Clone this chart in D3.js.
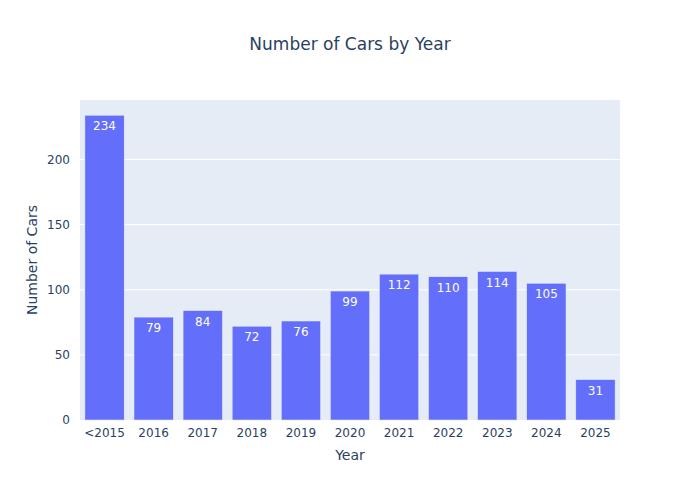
<!DOCTYPE html>
<html>
<head>
<meta charset="utf-8">
<script src="https://cdn.jsdelivr.net/npm/d3@7"></script>
<style>
  body { margin: 0; background: #fff; }
  text { font-family: "DejaVu Sans", verdana, arial, sans-serif; fill: #2a3f5f; }
</style>
</head>
<body>
<svg id="chart"></svg>
<script>
// data
const years = ["<2015", "2016", "2017", "2018", "2019", "2020", "2021", "2022", "2023", "2024", "2025"];
const counts = [234, 79, 84, 72, 76, 99, 112, 110, 114, 105, 31];
const yTicks = [0, 50, 100, 150, 200];

// layout
const WIDTH = 700, HEIGHT = 500;
const MARGIN = {top: 100, right: 80, bottom: 80, left: 80};
const BAR_COLOR = "#636efa";
const PLOT_BG = "#e5ecf6";

const svg = d3.select("#chart").attr("width", WIDTH).attr("height", HEIGHT);

const x = d3.scaleBand()
    .domain(years)
    .range([MARGIN.left, WIDTH - MARGIN.right])
    .paddingInner(0.2)
    .paddingOuter(0.1);

const y = d3.scaleLinear()
    .domain([0, d3.max(counts) * 1.05])
    .range([HEIGHT - MARGIN.bottom, MARGIN.top]);

// plot background
svg.append("rect")
    .attr("x", MARGIN.left)
    .attr("y", MARGIN.top)
    .attr("width", WIDTH - MARGIN.left - MARGIN.right)
    .attr("height", HEIGHT - MARGIN.top - MARGIN.bottom)
    .attr("fill", PLOT_BG);

// gridlines
svg.append("g")
    .selectAll("line")
    .data(yTicks.filter(t => t > 0))
    .enter()
    .append("line")
    .attr("x1", MARGIN.left)
    .attr("x2", WIDTH - MARGIN.right)
    .attr("y1", d => y(d))
    .attr("y2", d => y(d))
    .attr("stroke", "#fff")
    .attr("stroke-width", 1);

// bars
const data = years.map((yr, i) => ({year: yr, count: counts[i]}));

svg.append("g")
    .selectAll(".bar")
    .data(data)
    .enter()
    .append("rect")
    .classed("bar", true)
    .attr("x", d => x(d.year))
    .attr("width", x.bandwidth())
    .attr("y", d => y(d.count))
    .attr("height", d => y(0) - y(d.count))
    .attr("fill", BAR_COLOR)
    .attr("stroke", PLOT_BG)
    .attr("stroke-width", 0.5);

// values inside bars
svg.append("g")
    .selectAll(".val")
    .data(data)
    .enter()
    .append("text")
    .classed("val", true)
    .attr("x", d => x(d.year) + x.bandwidth() / 2)
    .attr("y", d => y(d.count) + 15)
    .attr("text-anchor", "middle")
    .style("fill", "#fff")
    .style("font-size", "12px")
    .text(d => d.count);

// x axis
const xAxis = svg.append("g")
    .attr("transform", `translate(0,${HEIGHT - MARGIN.bottom})`)
    .call(d3.axisBottom(x).tickSize(0).tickPadding(8));
xAxis.select(".domain").remove();
xAxis.selectAll("text").style("font-size", "12px").style("fill", "#2a3f5f");

// y axis
const yAxis = svg.append("g")
    .attr("transform", `translate(${MARGIN.left},0)`)
    .call(d3.axisLeft(y).tickValues(yTicks).tickSize(0).tickPadding(10));
yAxis.select(".domain").remove();
yAxis.selectAll("text").style("font-size", "12px").style("fill", "#2a3f5f");

// titles
svg.append("text")
    .attr("x", WIDTH / 2)
    .attr("y", 50)
    .attr("text-anchor", "middle")
    .style("font-size", "17px")
    .text("Number of Cars by Year");

svg.append("text")
    .attr("x", (MARGIN.left + WIDTH - MARGIN.right) / 2)
    .attr("y", 460)
    .attr("text-anchor", "middle")
    .style("font-size", "14px")
    .text("Year");

svg.append("text")
    .attr("transform", `translate(37,${(MARGIN.top + HEIGHT - MARGIN.bottom) / 2}) rotate(-90)`)
    .attr("text-anchor", "middle")
    .style("font-size", "14px")
    .text("Number of Cars");
</script>
</body>
</html>
